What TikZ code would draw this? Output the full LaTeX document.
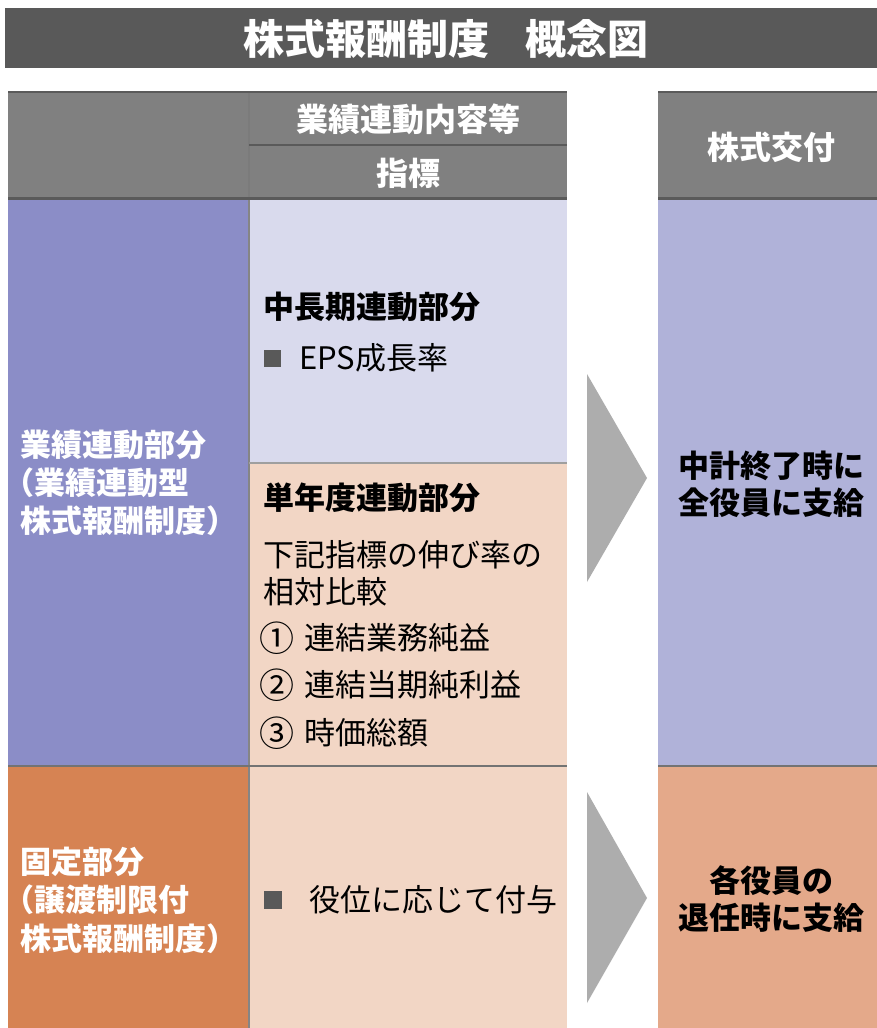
\documentclass[tikz,border=0pt]{standalone}
\usepackage{fontspec}
\setmainfont{Noto Sans CJK JP}
\definecolor{titlebg}{HTML}{595959}
\definecolor{hdrbg}{HTML}{808080}
\definecolor{hdrline}{HTML}{5A5A5A}
\definecolor{perfL}{HTML}{8B8DC7}
\definecolor{midU}{HTML}{D9DAED}
\definecolor{midL}{HTML}{F2D6C5}
\definecolor{rightU}{HTML}{B0B2D9}
\definecolor{fixL}{HTML}{D68353}
\definecolor{rightF}{HTML}{E4A98A}
\definecolor{arrowc}{HTML}{ADADAD}
\definecolor{bulletc}{HTML}{595959}
\definecolor{cellline}{HTML}{858585}
\newcommand{\circnum}[1]{\raisebox{-1.5pt}{\fontsize{35}{37}\selectfont #1}\hspace{10pt}}
\begin{document}
\begin{tikzpicture}[x=1pt,y=-1pt,
  txt/.style={inner sep=0pt, font=\fontsize{31}{37}\selectfont},
  btxt/.style={inner sep=0pt, font=\fontsize{31}{37}\selectfont\bfseries},
  htxt/.style={inner sep=0pt, text=white, font=\fontsize{32}{36}\selectfont\bfseries},
  wtxt/.style={inner sep=0pt, text=white, font=\fontsize{31}{37}\selectfont\bfseries},
  hline/.style={draw=hdrline, line width=2pt},
  cline/.style={draw=cellline, line width=2pt},
  chevron/.style={fill=arrowc}]
\useasboundingbox (0,0) rectangle (877,1028);
\fill[white] (0,0) rectangle (877,1028);
% title
\fill[titlebg] (5,8) rectangle (877,68);
\node[inner sep=0pt, text=white, font=\fontsize{41}{46}\selectfont\bfseries] (title) at (446,39) {株式報酬制度\hspace{0.9em}概念図};
% headers
\fill[hdrbg] (8,92) rectangle (567,198);
\fill[hdrbg] (658,92) rectangle (877,198);
% body fills
\fill[perfL] (8,198) rectangle (249,766);
\fill[midU] (249,198) rectangle (567,463);
\fill[midL] (249,463) rectangle (567,766);
\fill[rightU] (658,198) rectangle (877,766);
\fill[fixL] (8,766) rectangle (249,1028);
\fill[midL] (249,766) rectangle (567,1028);
\fill[rightF] (658,766) rectangle (877,1028);
% lines
\draw[cline] (249,198) -- (249,1028);
\draw[cline, draw=hdrline!80] (249,92) -- (249,198);
\draw[cline, draw=gray!75] (249,463) -- (567,463);
\draw[hline] (8,92) -- (567,92);
\draw[hline] (658,92) -- (877,92);
\draw[hline] (249,145) -- (567,145);
\draw[hline, line width=3pt] (8,198) -- (567,198);
\draw[hline, line width=3pt] (658,198) -- (877,198);
\draw[hline, draw=hdrline!85] (8,766) -- (567,766);
\draw[hline, draw=hdrline!85] (658,766) -- (877,766);
% header texts
\node[htxt] (h1) at (408,119) {業績連動内容等};
\node[htxt] (h2) at (408,173) {指標};
\node[htxt] (h3) at (771,147) {株式交付};
% chevrons
\fill[chevron] (587,374) -- (647,478) -- (587,582) -- cycle;
\fill[chevron] (587,792) -- (647,898) -- (587,1003) -- cycle;
% left column
\node[wtxt, anchor=west] (l1) at (20,445) {業績連動部分};
\node[wtxt, anchor=west] (l2) at (3,483) {（業績連動型};
\node[wtxt, anchor=west] (l3) at (20,521) {株式報酬制度）};
\node[wtxt, anchor=west] (f1) at (20,862) {固定部分};
\node[wtxt, anchor=west] (f2) at (3,900) {（譲渡制限付};
\node[wtxt, anchor=west] (f3) at (20,939) {株式報酬制度）};
% middle upper
\node[btxt, anchor=west] (m1) at (263,307) {中長期連動部分};
\fill[bulletc] (264,350) rectangle (281,367);
\node[txt, anchor=west] (m2) at (299,358) {EPS成長率};
% middle lower
\node[btxt, anchor=west] (s1) at (263,498) {単年度連動部分};
\node[txt, anchor=west] (s2) at (263,555) {下記指標の伸び率の};
\node[txt, anchor=west] (s3) at (263,592) {相対比較};
\node[txt, anchor=west] (s4) at (259,638) {\circnum{①}連結業務純益};
\node[txt, anchor=west] (s5) at (259,685) {\circnum{②}連結当期純利益};
\node[txt, anchor=west] (s6) at (259,733) {\circnum{③}時価総額};
% middle fixed
\fill[bulletc] (264,891) rectangle (282,909);
\node[txt, anchor=west] (x1) at (309,900) {役位に応じて付与};
% right
\node[btxt] (r1) at (771,466) {中計終了時に};
\node[btxt] (r2) at (771,503) {全役員に支給};
\node[btxt] (r3) at (771,881) {各役員の};
\node[btxt] (r4) at (771,918) {退任時に支給};
\end{tikzpicture}
\end{document}
